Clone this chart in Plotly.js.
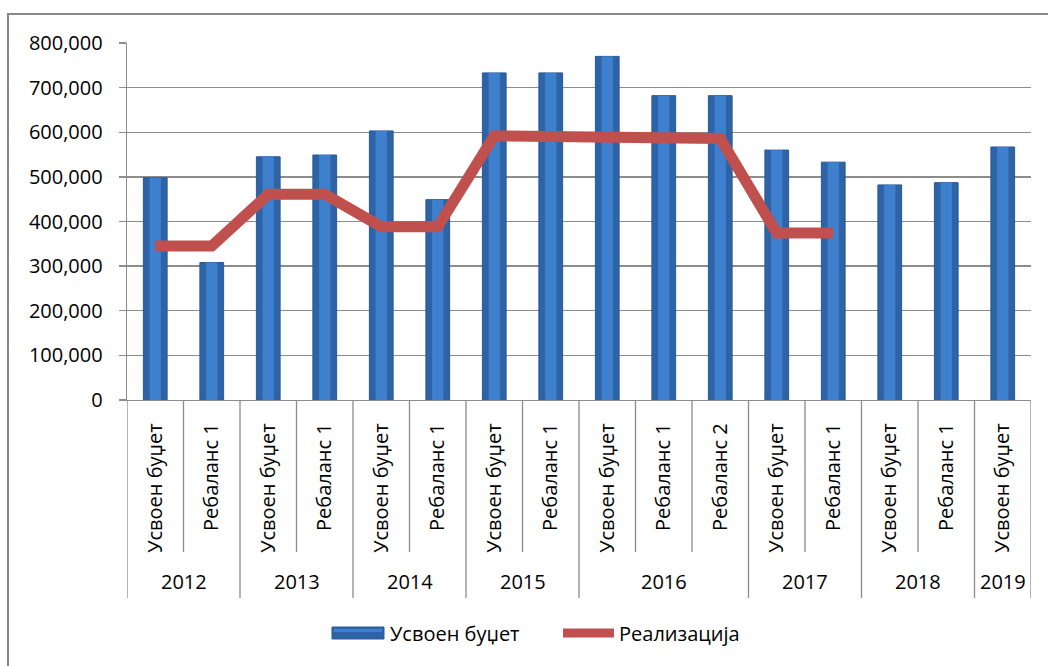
<!DOCTYPE html>
<html>
<head>
<meta charset="utf-8">
<script src="https://cdn.plot.ly/plotly-3.0.1.min.js"></script>
<style>html,body{margin:0;padding:0;background:#fff;}#chart{width:1048px;height:666px;}</style>
</head>
<body>
<div id="chart"></div>
<script>
const categories = ['Усвоен буџет','Ребаланс 1','Усвоен буџет','Ребаланс 1','Усвоен буџет','Ребаланс 1','Усвоен буџет','Ребаланс 1','Усвоен буџет','Ребаланс 1','Ребаланс 2','Усвоен буџет','Ребаланс 1','Усвоен буџет','Ребаланс 1','Усвоен буџет'];
const years = ['2012','2012','2013','2013','2014','2014','2015','2015','2016','2016','2016','2017','2017','2018','2018','2019'];
const budget = [498000,308000,545000,549000,603000,449000,733000,733000,770000,682000,682000,560000,533000,482000,487000,567000];
const realization = [345000,345000,461000,461000,388000,388000,592000,591000,586000,586000,586000,374000,374000,null,null,null];
const seriesNames = ['Усвоен буџет','Реализација'];
const yTicks = [0,100000,200000,300000,400000,500000,600000,700000,800000];

const FONT = 'Open Sans';
const FS = 20;
const idx = categories.map((_, i) => i);

// plot area geometry (pixels) for converting to paper coords
const plotTop = 43, plotBottom = 400, plotH = plotBottom - plotTop;
const L = 127, R = 17, W = 1048, plotW = W - L - R;
const py = p => (plotBottom - p) / plotH;
const px = p => (p - L) / plotW;

// group years
const groups = [];
years.forEach((y, i) => {
  if (!groups.length || groups[groups.length - 1].year !== y) groups.push({year: y, start: i, end: i});
  else groups[groups.length - 1].end = i;
});

const shapes = [];
const annotations = [];
const gridColor = '#8c8c8c';
const BAR = '#2E64A6', BAR_HL = '#3E80CE', RED = '#C0504D';
// sub-category dividers
for (let i = 0; i <= categories.length; i++) {
  const isYearBoundary = groups.some(g => g.start === i) || i === categories.length;
  shapes.push({type: 'line', xref: 'x', yref: 'paper', x0: i - 0.5, x1: i - 0.5,
    y0: 0, y1: isYearBoundary ? py(598) : py(552), line: {color: gridColor, width: 1.3}});
}
groups.forEach(g => {
  annotations.push({xref: 'x', yref: 'paper', x: (g.start + g.end) / 2, y: py(581),
    text: g.year, showarrow: false, xanchor: 'center', yanchor: 'middle',
    font: {family: FONT, size: FS, color: '#000'}});
});
// outer chart border
shapes.push({type: 'rect', xref: 'paper', yref: 'paper', x0: px(8), x1: px(1056), y0: py(670), y1: py(14),
  line: {color: '#888', width: 2}, fillcolor: 'rgba(0,0,0,0)', layer: 'below'});

// custom legend (Excel style wide keys)
const legY = 633;
shapes.push({type: 'rect', xref: 'paper', yref: 'paper', x0: px(332), x1: px(384), y0: py(legY + 6), y1: py(legY - 6),
  fillcolor: BAR, line: {color: '#28589a', width: 1}});
shapes.push({type: 'rect', xref: 'paper', yref: 'paper', x0: px(334), x1: px(382), y0: py(legY - 1), y1: py(legY - 4),
  fillcolor: BAR_HL, line: {width: 0}});
shapes.push({type: 'line', xref: 'paper', yref: 'paper', x0: px(563), x1: px(614), y0: py(legY), y1: py(legY),
  line: {color: RED, width: 9}});
annotations.push({xref: 'paper', yref: 'paper', x: px(388), y: py(legY), text: seriesNames[0], showarrow: false,
  xanchor: 'left', yanchor: 'middle', font: {family: FONT, size: FS, color: '#000'}});
annotations.push({xref: 'paper', yref: 'paper', x: px(617), y: py(legY), text: seriesNames[1], showarrow: false,
  xanchor: 'left', yanchor: 'middle', font: {family: FONT, size: FS, color: '#000'}});

const traces = [
  {type: 'bar', x: idx, y: budget, name: seriesNames[0], width: 0.42,
   marker: {color: BAR, line: {color: '#28589a', width: 1}}, hoverinfo: 'y'},
  {type: 'bar', x: idx, y: budget, name: seriesNames[0] + ' hl', width: 0.2,
   marker: {color: BAR_HL, line: {width: 0}}, hoverinfo: 'skip'},
  {type: 'scatter', mode: 'lines', x: idx, y: realization, name: seriesNames[1],
   line: {color: RED, width: 11}, connectgaps: false}
];

const layout = {
  width: 1048, height: 666,
  margin: {l: L, r: R, t: plotTop, b: 666 - plotBottom},
  paper_bgcolor: '#fff', plot_bgcolor: '#fff',
  barmode: 'overlay',
  font: {family: FONT, size: FS, color: '#000'},
  xaxis: {range: [-0.5, categories.length - 0.5], tickmode: 'array', tickvals: idx, ticktext: categories,
    tickangle: -90, showgrid: false, zeroline: false, showline: true, linecolor: gridColor, linewidth: 1.3,
    ticks: '', ticklabelstandoff: 14, tickfont: {family: FONT, size: FS, color: '#000'}, fixedrange: true},
  yaxis: {range: [0, 800000], tickmode: 'array', tickvals: yTicks, tickformat: ',', showgrid: true,
    gridcolor: gridColor, gridwidth: 1.3, zeroline: false, showline: true, linecolor: gridColor, linewidth: 1.3,
    ticks: 'outside', ticklen: 7, tickcolor: gridColor, tickwidth: 1.3, ticklabelstandoff: 12,
    tickfont: {family: FONT, size: FS, color: '#000'}, fixedrange: true},
  shapes: shapes,
  annotations: annotations,
  showlegend: false
};

Plotly.newPlot('chart', traces, layout, {displayModeBar: false, staticPlot: true});
</script>
</body>
</html>
